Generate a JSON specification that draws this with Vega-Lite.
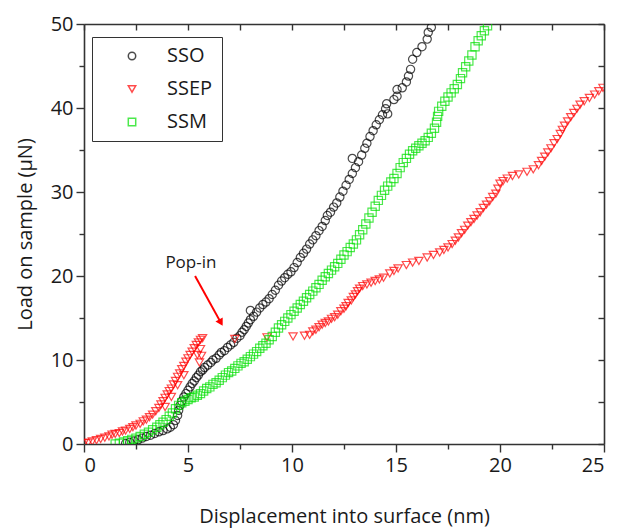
{
  "$schema": "https://vega.github.io/schema/vega-lite/v6.json",
  "width": 520,
  "height": 420,
  "autosize": {"type": "none"},
  "padding": {"left": 84, "top": 24, "right": 15, "bottom": 84},
  "background": "white",
  "config": {
    "view": {"stroke": null},
    "font": "Open Sans",
    "axis": {"domainColor": "#333", "tickColor": "#333", "labelColor": "#1a1a1a", "titleColor": "#1a1a1a", "labelFont": "Open Sans", "titleFont": "Open Sans", "grid": false, "titleFontWeight": "normal", "domainWidth": 1.6, "tickWidth": 1.4},
    "legend": {"orient": "none", "legendX": 8, "legendY": 13, "padding": 9, "strokeColor": "#333", "fillColor": "white", "labelFont": "Open Sans", "labelFontSize": 20, "labelColor": "#1a1a1a", "symbolSize": 55, "symbolStrokeWidth": 1.5, "symbolOffset": 21, "labelOffset": 25, "rowPadding": 13, "titlePadding": 0}
  },
  "data": {"values": [
    {"s":"SSO","x":2.0,"y":0.05},{"s":"SSO","x":2.2,"y":0.2},{"s":"SSO","x":2.4,"y":0.35},{"s":"SSO","x":2.6,"y":0.5},{"s":"SSO","x":2.8,"y":0.7},{"s":"SSO","x":3.0,"y":0.9},{"s":"SSO","x":3.2,"y":1.05},{"s":"SSO","x":3.4,"y":1.25},{"s":"SSO","x":3.6,"y":1.45},{"s":"SSO","x":3.8,"y":1.6},{"s":"SSO","x":4.0,"y":1.8},{"s":"SSO","x":4.15,"y":2.0},{"s":"SSO","x":4.3,"y":2.3},{"s":"SSO","x":4.4,"y":2.8},{"s":"SSO","x":4.5,"y":3.4},{"s":"SSO","x":4.55,"y":4.0},{"s":"SSO","x":4.62,"y":4.6},{"s":"SSO","x":4.7,"y":5.1},{"s":"SSO","x":4.8,"y":5.6},{"s":"SSO","x":4.9,"y":6.0},{"s":"SSO","x":5.0,"y":6.4},{"s":"SSO","x":5.1,"y":6.8},{"s":"SSO","x":5.2,"y":7.2},{"s":"SSO","x":5.3,"y":7.5},{"s":"SSO","x":5.4,"y":7.9},{"s":"SSO","x":5.5,"y":8.2},{"s":"SSO","x":5.6,"y":8.6},{"s":"SSO","x":5.7,"y":8.8},{"s":"SSO","x":5.8,"y":9.1},{"s":"SSO","x":5.95,"y":9.4},{"s":"SSO","x":6.1,"y":9.7},{"s":"SSO","x":6.2,"y":10.0},{"s":"SSO","x":6.35,"y":10.2},{"s":"SSO","x":6.5,"y":10.6},{"s":"SSO","x":6.6,"y":10.9},{"s":"SSO","x":6.75,"y":11.1},{"s":"SSO","x":6.9,"y":11.5},{"s":"SSO","x":7.05,"y":11.8},{"s":"SSO","x":7.2,"y":12.1},{"s":"SSO","x":7.35,"y":12.6},{"s":"SSO","x":7.5,"y":12.9},{"s":"SSO","x":7.6,"y":13.3},{"s":"SSO","x":7.7,"y":13.6},{"s":"SSO","x":7.8,"y":14.0},{"s":"SSO","x":7.9,"y":14.4},{"s":"SSO","x":8.0,"y":14.8},{"s":"SSO","x":8.0,"y":15.9},{"s":"SSO","x":8.15,"y":15.2},{"s":"SSO","x":8.3,"y":15.7},{"s":"SSO","x":8.45,"y":16.2},{"s":"SSO","x":8.6,"y":16.6},{"s":"SSO","x":8.75,"y":16.9},{"s":"SSO","x":8.9,"y":17.3},{"s":"SSO","x":9.05,"y":17.8},{"s":"SSO","x":9.2,"y":18.3},{"s":"SSO","x":9.35,"y":18.9},{"s":"SSO","x":9.5,"y":19.4},{"s":"SSO","x":9.65,"y":19.8},{"s":"SSO","x":9.8,"y":20.2},{"s":"SSO","x":9.95,"y":20.5},{"s":"SSO","x":10.1,"y":21.0},{"s":"SSO","x":10.25,"y":21.6},{"s":"SSO","x":10.4,"y":22.2},{"s":"SSO","x":10.55,"y":22.7},{"s":"SSO","x":10.7,"y":23.2},{"s":"SSO","x":10.85,"y":23.8},{"s":"SSO","x":11.0,"y":24.3},{"s":"SSO","x":11.15,"y":24.8},{"s":"SSO","x":11.3,"y":25.4},{"s":"SSO","x":11.45,"y":25.9},{"s":"SSO","x":11.6,"y":26.6},{"s":"SSO","x":11.7,"y":27.2},{"s":"SSO","x":11.85,"y":27.6},{"s":"SSO","x":12.0,"y":28.2},{"s":"SSO","x":12.15,"y":28.7},{"s":"SSO","x":12.3,"y":29.4},{"s":"SSO","x":12.45,"y":30.1},{"s":"SSO","x":12.6,"y":30.8},{"s":"SSO","x":12.75,"y":31.5},{"s":"SSO","x":12.9,"y":32.2},{"s":"SSO","x":12.9,"y":34.0},{"s":"SSO","x":13.05,"y":32.9},{"s":"SSO","x":13.2,"y":33.6},{"s":"SSO","x":13.35,"y":34.4},{"s":"SSO","x":13.5,"y":35.2},{"s":"SSO","x":13.6,"y":35.8},{"s":"SSO","x":13.75,"y":36.6},{"s":"SSO","x":13.9,"y":37.3},{"s":"SSO","x":14.05,"y":38.0},{"s":"SSO","x":14.2,"y":38.6},{"s":"SSO","x":14.35,"y":39.2},{"s":"SSO","x":14.5,"y":39.9},{"s":"SSO","x":14.55,"y":40.5},{"s":"SSO","x":14.6,"y":39.3},{"s":"SSO","x":14.9,"y":41.0},{"s":"SSO","x":15.05,"y":41.4},{"s":"SSO","x":15.05,"y":42.2},{"s":"SSO","x":15.3,"y":42.4},{"s":"SSO","x":15.5,"y":43.1},{"s":"SSO","x":15.6,"y":43.8},{"s":"SSO","x":15.7,"y":44.6},{"s":"SSO","x":15.8,"y":45.8},{"s":"SSO","x":16.0,"y":46.6},{"s":"SSO","x":16.25,"y":47.3},{"s":"SSO","x":16.5,"y":48.2},{"s":"SSO","x":16.55,"y":49.0},{"s":"SSO","x":16.7,"y":49.6},

    {"s":"SSEP","x":0.0,"y":0.1},{"s":"SSEP","x":0.2,"y":0.15},{"s":"SSEP","x":0.4,"y":0.3},{"s":"SSEP","x":0.6,"y":0.45},{"s":"SSEP","x":0.8,"y":0.6},{"s":"SSEP","x":1.0,"y":0.75},{"s":"SSEP","x":1.2,"y":0.9},{"s":"SSEP","x":1.35,"y":1.1},{"s":"SSEP","x":1.5,"y":1.2},{"s":"SSEP","x":1.7,"y":1.3},{"s":"SSEP","x":1.85,"y":1.5},{"s":"SSEP","x":2.0,"y":1.6},{"s":"SSEP","x":2.2,"y":1.8},{"s":"SSEP","x":2.35,"y":2.0},{"s":"SSEP","x":2.5,"y":2.2},{"s":"SSEP","x":2.7,"y":2.4},{"s":"SSEP","x":2.85,"y":2.7},{"s":"SSEP","x":3.0,"y":2.9},{"s":"SSEP","x":3.15,"y":3.2},{"s":"SSEP","x":3.3,"y":3.5},{"s":"SSEP","x":3.45,"y":3.9},{"s":"SSEP","x":3.6,"y":4.3},{"s":"SSEP","x":3.7,"y":4.7},{"s":"SSEP","x":3.8,"y":5.1},{"s":"SSEP","x":3.9,"y":5.5},{"s":"SSEP","x":3.9,"y":4.4},{"s":"SSEP","x":4.0,"y":5.9},{"s":"SSEP","x":4.1,"y":6.3},{"s":"SSEP","x":4.2,"y":6.6},{"s":"SSEP","x":4.2,"y":5.6},{"s":"SSEP","x":4.3,"y":7.1},{"s":"SSEP","x":4.4,"y":7.5},{"s":"SSEP","x":4.5,"y":8.0},{"s":"SSEP","x":4.5,"y":7.0},{"s":"SSEP","x":4.6,"y":8.4},{"s":"SSEP","x":4.7,"y":8.9},{"s":"SSEP","x":4.8,"y":9.3},{"s":"SSEP","x":4.8,"y":8.2},{"s":"SSEP","x":4.9,"y":9.8},{"s":"SSEP","x":5.0,"y":10.2},{"s":"SSEP","x":5.1,"y":10.6},{"s":"SSEP","x":5.2,"y":11.0},{"s":"SSEP","x":5.3,"y":11.4},{"s":"SSEP","x":5.4,"y":11.8},{"s":"SSEP","x":5.45,"y":10.6},{"s":"SSEP","x":5.5,"y":12.1},{"s":"SSEP","x":5.55,"y":9.7},{"s":"SSEP","x":5.6,"y":12.4},{"s":"SSEP","x":5.6,"y":11.3},{"s":"SSEP","x":5.65,"y":10.5},{"s":"SSEP","x":5.7,"y":12.6},
    {"s":"SSEP","x":7.25,"y":12.5},{"s":"SSEP","x":8.8,"y":12.7},{"s":"SSEP","x":10.05,"y":12.8},{"s":"SSEP","x":10.6,"y":12.9},
    {"s":"SSEP","x":10.85,"y":13.0},{"s":"SSEP","x":11.0,"y":13.4},{"s":"SSEP","x":11.15,"y":13.6},{"s":"SSEP","x":11.3,"y":13.9},{"s":"SSEP","x":11.45,"y":14.2},{"s":"SSEP","x":11.6,"y":14.4},{"s":"SSEP","x":11.75,"y":14.6},{"s":"SSEP","x":11.9,"y":14.9},{"s":"SSEP","x":12.05,"y":15.1},{"s":"SSEP","x":12.2,"y":15.4},{"s":"SSEP","x":12.35,"y":15.8},{"s":"SSEP","x":12.5,"y":16.1},{"s":"SSEP","x":12.6,"y":16.4},{"s":"SSEP","x":12.7,"y":16.8},{"s":"SSEP","x":12.85,"y":17.1},{"s":"SSEP","x":12.95,"y":17.5},{"s":"SSEP","x":13.05,"y":17.8},{"s":"SSEP","x":13.15,"y":18.2},{"s":"SSEP","x":13.25,"y":18.5},{"s":"SSEP","x":13.4,"y":18.8},{"s":"SSEP","x":13.6,"y":19.0},{"s":"SSEP","x":13.8,"y":19.2},{"s":"SSEP","x":14.0,"y":19.4},{"s":"SSEP","x":14.2,"y":19.6},{"s":"SSEP","x":14.4,"y":19.8},{"s":"SSEP","x":14.7,"y":20.3},{"s":"SSEP","x":14.9,"y":20.6},{"s":"SSEP","x":15.1,"y":20.9},{"s":"SSEP","x":15.5,"y":21.3},{"s":"SSEP","x":15.8,"y":21.6},{"s":"SSEP","x":16.1,"y":21.8},{"s":"SSEP","x":16.5,"y":22.2},{"s":"SSEP","x":16.8,"y":22.5},{"s":"SSEP","x":17.1,"y":22.8},{"s":"SSEP","x":17.3,"y":23.1},{"s":"SSEP","x":17.5,"y":23.4},{"s":"SSEP","x":17.7,"y":23.8},{"s":"SSEP","x":17.85,"y":24.2},{"s":"SSEP","x":18.0,"y":24.6},{"s":"SSEP","x":18.15,"y":25.1},{"s":"SSEP","x":18.3,"y":25.5},{"s":"SSEP","x":18.45,"y":26.0},{"s":"SSEP","x":18.6,"y":26.4},{"s":"SSEP","x":18.75,"y":26.8},{"s":"SSEP","x":18.9,"y":27.2},{"s":"SSEP","x":19.05,"y":27.6},{"s":"SSEP","x":19.2,"y":28.1},{"s":"SSEP","x":19.35,"y":28.5},{"s":"SSEP","x":19.5,"y":28.9},{"s":"SSEP","x":19.65,"y":29.4},{"s":"SSEP","x":19.8,"y":29.8},{"s":"SSEP","x":19.9,"y":30.4},{"s":"SSEP","x":20.0,"y":31.0},{"s":"SSEP","x":20.15,"y":31.3},{"s":"SSEP","x":20.35,"y":31.6},{"s":"SSEP","x":20.6,"y":31.9},{"s":"SSEP","x":20.9,"y":32.1},{"s":"SSEP","x":21.3,"y":32.4},{"s":"SSEP","x":21.6,"y":32.7},{"s":"SSEP","x":21.85,"y":33.2},{"s":"SSEP","x":22.0,"y":33.7},{"s":"SSEP","x":22.15,"y":34.2},{"s":"SSEP","x":22.3,"y":34.7},{"s":"SSEP","x":22.45,"y":35.2},{"s":"SSEP","x":22.6,"y":35.8},{"s":"SSEP","x":22.75,"y":36.3},{"s":"SSEP","x":22.9,"y":36.9},{"s":"SSEP","x":23.0,"y":37.4},{"s":"SSEP","x":23.1,"y":37.9},{"s":"SSEP","x":23.25,"y":38.4},{"s":"SSEP","x":23.4,"y":38.9},{"s":"SSEP","x":23.55,"y":39.4},{"s":"SSEP","x":23.7,"y":39.9},{"s":"SSEP","x":23.85,"y":40.4},{"s":"SSEP","x":24.05,"y":40.8},{"s":"SSEP","x":24.3,"y":41.2},{"s":"SSEP","x":24.55,"y":41.6},{"s":"SSEP","x":24.75,"y":42.0},{"s":"SSEP","x":24.95,"y":42.4},

    {"s":"SSM","x":1.5,"y":0.0},{"s":"SSM","x":1.7,"y":0.1},{"s":"SSM","x":1.9,"y":0.25},{"s":"SSM","x":2.1,"y":0.4},{"s":"SSM","x":2.3,"y":0.55},{"s":"SSM","x":2.5,"y":0.7},{"s":"SSM","x":2.7,"y":0.9},{"s":"SSM","x":2.9,"y":1.15},{"s":"SSM","x":3.1,"y":1.4},{"s":"SSM","x":3.3,"y":1.7},{"s":"SSM","x":3.5,"y":2.0},{"s":"SSM","x":3.65,"y":2.3},{"s":"SSM","x":3.8,"y":2.6},{"s":"SSM","x":3.95,"y":2.9},{"s":"SSM","x":4.1,"y":3.3},{"s":"SSM","x":4.25,"y":3.7},{"s":"SSM","x":4.4,"y":4.2},{"s":"SSM","x":4.55,"y":4.6},{"s":"SSM","x":4.7,"y":4.9},{"s":"SSM","x":4.85,"y":5.1},{"s":"SSM","x":5.0,"y":5.3},{"s":"SSM","x":5.15,"y":5.5},{"s":"SSM","x":5.3,"y":5.6},{"s":"SSM","x":5.45,"y":5.8},{"s":"SSM","x":5.6,"y":6.0},{"s":"SSM","x":5.75,"y":6.3},{"s":"SSM","x":5.9,"y":6.6},{"s":"SSM","x":6.05,"y":6.8},{"s":"SSM","x":6.2,"y":7.1},{"s":"SSM","x":6.35,"y":7.3},{"s":"SSM","x":6.5,"y":7.6},{"s":"SSM","x":6.65,"y":7.9},{"s":"SSM","x":6.8,"y":8.2},{"s":"SSM","x":6.95,"y":8.5},{"s":"SSM","x":7.1,"y":8.7},{"s":"SSM","x":7.25,"y":9.0},{"s":"SSM","x":7.4,"y":9.3},{"s":"SSM","x":7.55,"y":9.6},{"s":"SSM","x":7.7,"y":9.8},{"s":"SSM","x":7.85,"y":10.1},{"s":"SSM","x":8.0,"y":10.4},{"s":"SSM","x":8.15,"y":10.7},{"s":"SSM","x":8.3,"y":11.0},{"s":"SSM","x":8.45,"y":11.4},{"s":"SSM","x":8.6,"y":11.7},{"s":"SSM","x":8.75,"y":12.0},{"s":"SSM","x":8.9,"y":12.4},{"s":"SSM","x":9.05,"y":12.8},{"s":"SSM","x":9.2,"y":13.3},{"s":"SSM","x":9.35,"y":13.8},{"s":"SSM","x":9.5,"y":14.2},{"s":"SSM","x":9.65,"y":14.6},{"s":"SSM","x":9.8,"y":15.0},{"s":"SSM","x":9.95,"y":15.4},{"s":"SSM","x":10.1,"y":15.8},{"s":"SSM","x":10.25,"y":16.2},{"s":"SSM","x":10.4,"y":16.6},{"s":"SSM","x":10.55,"y":17.0},{"s":"SSM","x":10.7,"y":17.4},{"s":"SSM","x":10.85,"y":17.8},{"s":"SSM","x":11.0,"y":18.2},{"s":"SSM","x":11.15,"y":18.6},{"s":"SSM","x":11.3,"y":19.0},{"s":"SSM","x":11.45,"y":19.5},{"s":"SSM","x":11.6,"y":19.9},{"s":"SSM","x":11.75,"y":20.3},{"s":"SSM","x":11.9,"y":20.7},{"s":"SSM","x":12.05,"y":21.1},{"s":"SSM","x":12.2,"y":21.5},{"s":"SSM","x":12.35,"y":22.0},{"s":"SSM","x":12.5,"y":22.5},{"s":"SSM","x":12.65,"y":22.9},{"s":"SSM","x":12.8,"y":23.4},{"s":"SSM","x":12.95,"y":23.8},{"s":"SSM","x":13.1,"y":24.3},{"s":"SSM","x":13.25,"y":24.9},{"s":"SSM","x":13.4,"y":25.5},{"s":"SSM","x":13.55,"y":26.2},{"s":"SSM","x":13.7,"y":26.9},{"s":"SSM","x":13.85,"y":27.6},{"s":"SSM","x":14.0,"y":28.3},{"s":"SSM","x":14.15,"y":29.0},{"s":"SSM","x":14.3,"y":29.6},{"s":"SSM","x":14.45,"y":30.2},{"s":"SSM","x":14.6,"y":30.7},{"s":"SSM","x":14.75,"y":31.2},{"s":"SSM","x":14.9,"y":31.6},{"s":"SSM","x":15.05,"y":32.2},{"s":"SSM","x":15.2,"y":32.9},{"s":"SSM","x":15.35,"y":33.5},{"s":"SSM","x":15.5,"y":34.0},{"s":"SSM","x":15.65,"y":34.5},{"s":"SSM","x":15.8,"y":34.9},{"s":"SSM","x":15.95,"y":35.2},{"s":"SSM","x":16.1,"y":35.5},{"s":"SSM","x":16.25,"y":35.8},{"s":"SSM","x":16.4,"y":36.1},{"s":"SSM","x":16.55,"y":36.5},{"s":"SSM","x":16.7,"y":37.0},{"s":"SSM","x":16.85,"y":37.6},{"s":"SSM","x":16.95,"y":38.3},{"s":"SSM","x":17.0,"y":39.0},{"s":"SSM","x":17.05,"y":39.6},{"s":"SSM","x":17.2,"y":40.2},{"s":"SSM","x":17.35,"y":40.8},{"s":"SSM","x":17.5,"y":41.3},{"s":"SSM","x":17.65,"y":41.8},{"s":"SSM","x":17.8,"y":42.3},{"s":"SSM","x":17.95,"y":42.8},{"s":"SSM","x":18.1,"y":43.5},{"s":"SSM","x":18.2,"y":44.2},{"s":"SSM","x":18.35,"y":44.9},{"s":"SSM","x":18.5,"y":45.6},{"s":"SSM","x":18.65,"y":46.3},{"s":"SSM","x":18.8,"y":47.3},{"s":"SSM","x":18.95,"y":48.0},{"s":"SSM","x":19.1,"y":48.6},{"s":"SSM","x":19.25,"y":49.2},{"s":"SSM","x":19.4,"y":49.8}
  ]},
  "layer": [
    {
      "mark": {"type": "point", "filled": false, "size": 68, "strokeWidth": 1.2, "clip": true},
      "encoding": {
        "x": {"field": "x", "type": "quantitative", "scale": {"domain": [0, 25], "nice": false},
              "axis": {"orient": "bottom", "values": [0, 5, 10, 15, 20, 25], "tickSize": 8, "labelFontSize": 20, "labelPadding": 3, "title": "Displacement into surface (nm)", "titleFontSize": 20, "titlePadding": 31}},
        "y": {"field": "y", "type": "quantitative", "scale": {"domain": [0, 50], "nice": false},
              "axis": {"orient": "left", "values": [0, 10, 20, 30, 40, 50], "tickSize": 8, "labelFontSize": 20, "labelPadding": 3, "title": "Load on sample (μN)", "titleFontSize": 20, "titlePadding": 15}},
        "color": {"field": "s", "type": "nominal", "scale": {"domain": ["SSO", "SSEP", "SSM"], "range": ["#000000", "#ff0000", "#00e000"]}, "legend": {"title": null}},
        "shape": {"field": "s", "type": "nominal", "scale": {"domain": ["SSO", "SSEP", "SSM"], "range": ["circle", "triangle-down", "square"]}, "legend": {"title": null}}
      }
    },
    {
      "data": {"values": [{"x": 5.14, "y": 21.6, "label": "Pop-in"}]},
      "mark": {"type": "text", "fontSize": 17, "font": "Open Sans", "color": "#1a1a1a", "align": "center", "baseline": "middle"},
      "encoding": {
        "x": {"field": "x", "type": "quantitative", "scale": {"domain": [0, 25], "nice": false},
              "axis": {"orient": "bottom", "values": [2.5, 7.5, 12.5, 17.5, 22.5], "labels": false, "domain": false, "tickSize": 5, "title": null}},
        "y": {"field": "y", "type": "quantitative", "scale": {"domain": [0, 50], "nice": false},
              "axis": {"orient": "left", "values": [5, 15, 25, 35, 45], "labels": false, "domain": false, "tickSize": 5, "title": null}},
        "text": {"field": "label"}
      }
    },
    {
      "data": {"values": [{"x": 5.34, "y": 20.0, "x2": 6.58, "y2": 14.45}]},
      "mark": {"type": "rule", "color": "#ff0000", "strokeWidth": 2},
      "encoding": {
        "x": {"field": "x", "type": "quantitative", "scale": {"domain": [0, 25], "nice": false},
              "axis": {"orient": "top", "values": [0, 2.5, 5, 7.5, 10, 12.5, 15, 17.5, 20, 22.5, 25], "labels": false, "tickSize": -6, "title": null}},
        "y": {"field": "y", "type": "quantitative", "scale": {"domain": [0, 50], "nice": false},
              "axis": {"orient": "right", "values": [0, 5, 10, 15, 20, 25, 30, 35, 40, 45, 50], "labels": false, "tickSize": -6, "title": null}},
        "x2": {"field": "x2"},
        "y2": {"field": "y2"}
      }
    },
    {
      "data": {"values": [{"x": 6.58, "y": 14.45}]},
      "mark": {"type": "point", "shape": "triangle-down", "filled": true, "color": "#ff0000", "size": 70, "angle": 330.5, "opacity": 1},
      "encoding": {
        "x": {"field": "x", "type": "quantitative", "scale": {"domain": [0, 25], "nice": false}, "axis": null},
        "y": {"field": "y", "type": "quantitative", "scale": {"domain": [0, 50], "nice": false}, "axis": null}
      }
    }
  ],
  "resolve": {"axis": {"x": "independent", "y": "independent"}}
}
